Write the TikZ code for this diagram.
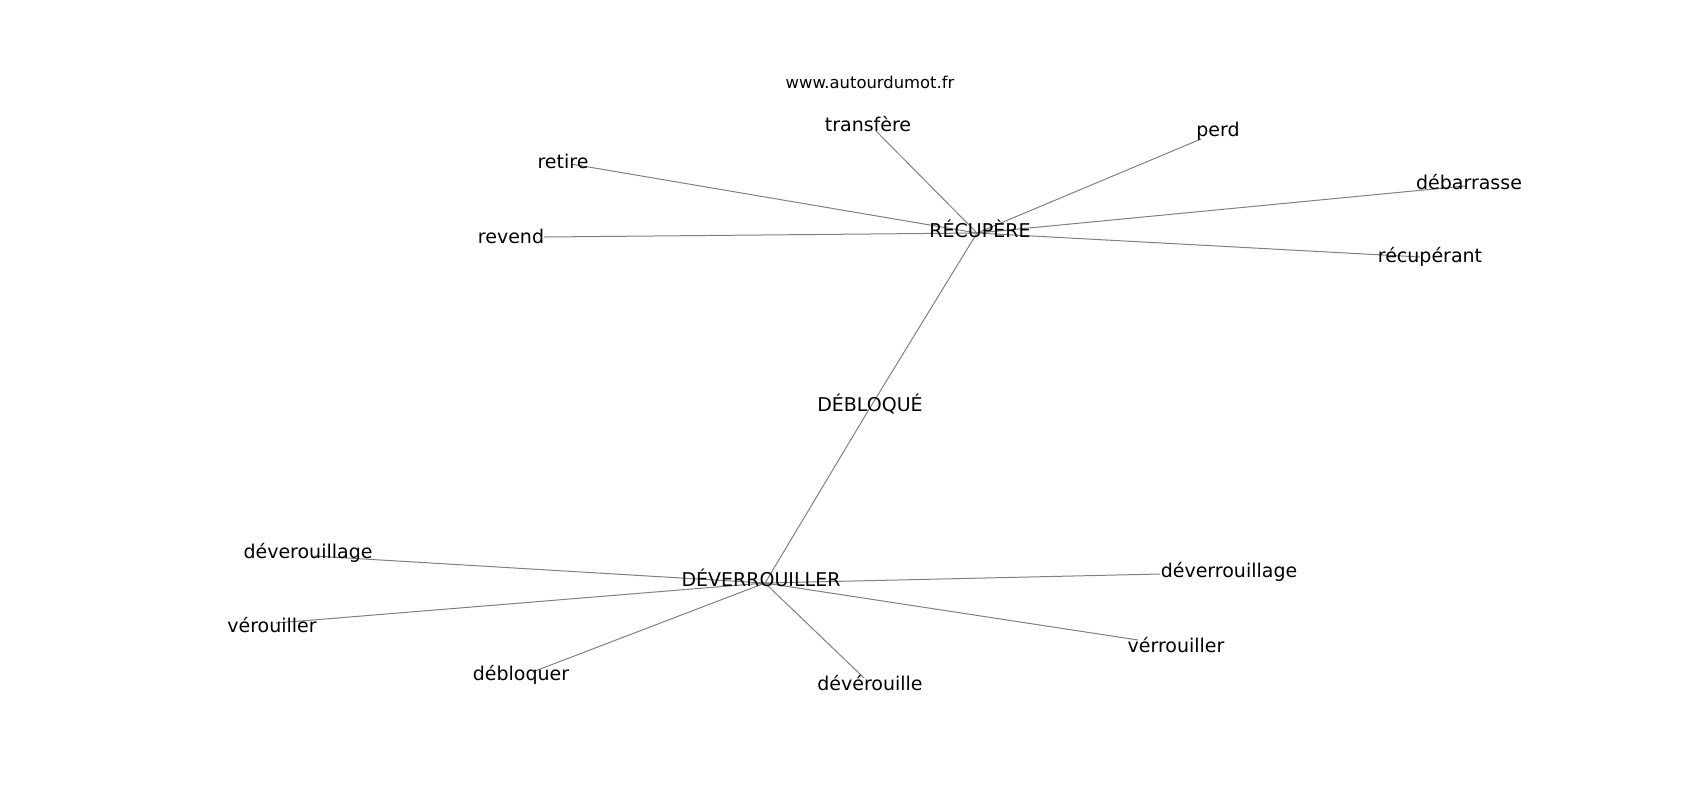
\documentclass[tikz,border=0pt]{standalone}
\usepackage{fontspec}
\setmainfont{DejaVu Sans}
\begin{document}
\begin{tikzpicture}[x=0.5pt,y=-0.5pt,
  lbl/.style={inner sep=0pt,anchor=center,font=\fontsize{9.5}{11}\selectfont,text=black},
  ttl/.style={inner sep=0pt,anchor=center,font=\fontsize{8.2}{10}\selectfont,text=black},
  edge/.style={draw=black!50,line width=0.5pt}]
\useasboundingbox (0,0) rectangle (1700,800);
% node points
\coordinate (recupere) at (977,233);
\coordinate (transfere) at (876,131);
\coordinate (retire) at (571,164);
\coordinate (revend) at (544,237);
\coordinate (perd) at (1201,139);
\coordinate (debarrasse) at (1465,186);
\coordinate (recuperant) at (1420,257);
\coordinate (debloque) at (868,411);
\coordinate (deverrouiller) at (765,583);
\coordinate (deverouillage) at (314,556);
\coordinate (verouiller) at (276,623);
\coordinate (debloquer) at (535,671);
\coordinate (deverouille) at (864,678);
\coordinate (verrouiller2) at (1138,640);
\coordinate (deverrouillage) at (1160,574);
% edges
\foreach \t in {transfere,retire,revend,perd,debarrasse,recuperant,debloque}
  \draw[edge] (recupere) -- (\t);
\draw[edge] (debloque) -- (deverrouiller);
\foreach \t in {deverouillage,verouiller,debloquer,deverouille,verrouiller2,deverrouillage}
  \draw[edge] (deverrouiller) -- (\t);
% labels
\node[ttl] (title) at (870,82) {www.autourdumot.fr};
\node[lbl] (l-transfere) at (868,124) {transfère};
\node[lbl] (l-retire) at (563,161) {retire};
\node[lbl] (l-revend) at (511,236) {revend};
\node[lbl] (l-recupere) at (980,229) {RÉCUPÈRE};
\node[lbl] (l-perd) at (1218,131) {perd};
\node[lbl] (l-debarrasse) at (1469,182) {débarrasse};
\node[lbl] (l-recuperant) at (1430,257) {récupérant};
\node[lbl] (l-debloque) at (870,404) {DÉBLOQUÉ};
\node[lbl] (l-deverrouiller) at (761,578) {DÉVERROUILLER};
\node[lbl] (l-deverouillage) at (308,553) {déverouillage};
\node[lbl] (l-verouiller) at (272,625) {vérouiller};
\node[lbl] (l-debloquer) at (521,675) {débloquer};
\node[lbl] (l-deverouille) at (870,683) {dévérouille};
\node[lbl] (l-verrouiller2) at (1176,645) {vérrouiller};
\node[lbl] (l-deverrouillage) at (1229,572) {déverrouillage};
\end{tikzpicture}
\end{document}
